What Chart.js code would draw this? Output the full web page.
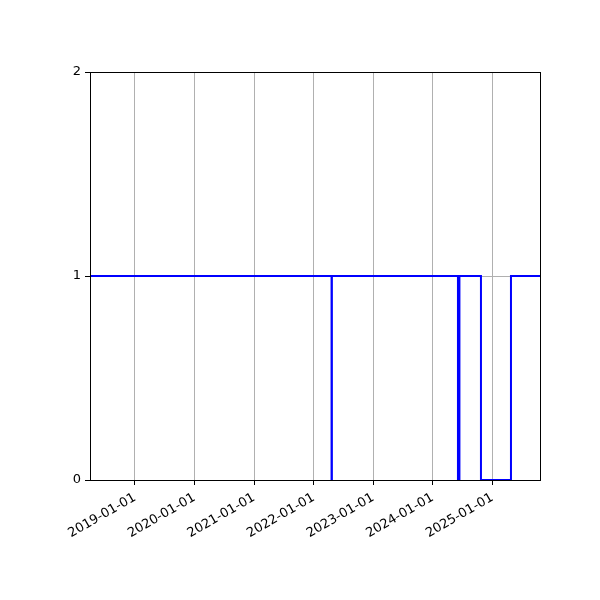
<!DOCTYPE html>
<html>
<head>
<meta charset="utf-8">
<script src="https://cdn.jsdelivr.net/npm/chart.js@4"></script>
<style>
  html, body { margin: 0; padding: 0; background: #fff; }
  #wrap { width: 600px; height: 600px; }
</style>
</head>
<body>
<div id="wrap"><canvas id="chart" width="600" height="600"></canvas></div>
<script>
// state changes (value holds until the next date)
const changeDates = ['2018-04-01', '2022-04-21', '2022-04-23', '2024-06-04', '2024-06-13', '2024-10-23', '2025-04-25', '2025-10-20'];
const states = [1, 0, 1, 0, 1, 0, 1, 1];
const tickYears = [2019, 2020, 2021, 2022, 2023, 2024, 2025];
const yTicks = [0, 1, 2];

const toTs = s => {
    const p = s.split('-');
    return Date.UTC(+p[0], +p[1] - 1, +p[2]);
};

const points = changeDates.map((d, i) => ({ x: toTs(d), y: states[i] }));

const fmt = v => {
    const d = new Date(v);
    const mm = String(d.getUTCMonth() + 1).padStart(2, '0');
    const dd = String(d.getUTCDate()).padStart(2, '0');
    return d.getUTCFullYear() + '-' + mm + '-' + dd;
};

const frame = {
    id: 'frame',
    afterDraw(chart) {
        const a = chart.chartArea, c = chart.ctx;
        c.save();
        c.strokeStyle = '#000';
        c.lineWidth = 1;
        c.strokeRect(Math.round(a.left) + 0.5, Math.round(a.top) + 0.5, Math.round(a.right - a.left), Math.round(a.bottom - a.top));
        c.restore();
    }
};

Chart.defaults.font.family = 'DejaVu Sans';
Chart.defaults.font.size = 13;
Chart.defaults.color = '#000';

new Chart(document.getElementById('chart').getContext('2d'), {
    type: 'line',
    data: {
        datasets: [{
            data: points,
            stepped: 'before',
            borderColor: '#0000ff',
            borderWidth: 2,
            pointRadius: 0,
            fill: false
        }]
    },
    options: {
        responsive: false,
        animation: false,
        layout: { padding: { top: 72, right: 60, left: 0, bottom: 0 } },
        plugins: { legend: { display: false }, tooltip: { enabled: false } },
        scales: {
            x: {
                type: 'linear',
                min: toTs('2018-04-01'),
                max: toTs('2025-10-20'),
                afterBuildTicks: s => { s.ticks = tickYears.map(y => ({ value: Date.UTC(y, 0, 1) })); },
                afterFit: s => { s.height = 120; },
                ticks: {
                    callback: v => fmt(v),
                    minRotation: 30,
                    maxRotation: 30,
                    autoSkip: false,
                    padding: 5
                },
                grid: { color: '#b0b0b0', lineWidth: 1, tickColor: '#000', tickLength: 5 },
                border: { color: '#000', width: 1 }
            },
            y: {
                min: 0,
                max: 2,
                afterBuildTicks: s => { s.ticks = yTicks.map(v => ({ value: v })); },
                afterFit: s => { s.width = 90; },
                ticks: { padding: 4 },
                grid: { color: '#b0b0b0', lineWidth: 1, tickColor: '#000', tickLength: 5 },
                border: { color: '#000', width: 1 }
            }
        }
    },
    plugins: [frame]
});
</script>
</body>
</html>
